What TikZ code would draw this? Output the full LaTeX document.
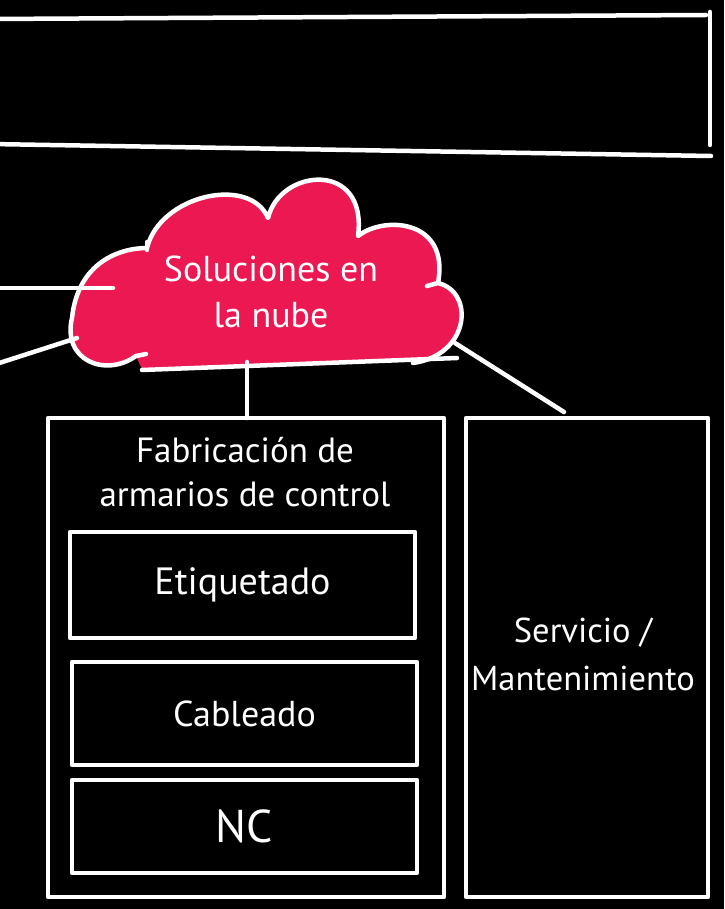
\documentclass[tikz,border=0pt]{standalone}
\usepackage{fontspec}
\setmainfont{PT Sans}
\definecolor{nube}{RGB}{236,24,82}
\tikzset{
    hand/.style={draw=white, line width=4.5pt, line cap=round, line join=round},
    caja/.style={hand, rectangle, inner sep=0pt, outer sep=0pt},
    rotulo/.style={text=white, align=center, font=\fontsize{36}{46}\selectfont},
}
\newcommand{\nubeborde}{(136,356) .. controls (105,378) and (62,360) .. (72,318)
    .. controls (78,262) and (120,248) .. (147,248)
    .. controls (160,195) and (250,175) .. (268,218)
    .. controls (280,168) and (368,160) .. (358,236)
    .. controls (385,215) and (450,220) .. (438,283)
    .. controls (475,292) and (470,355) .. (413,363)}

\begin{document}
\begin{tikzpicture}[x=1pt,y=-1pt]
    % Background
    \clip (0,0) rectangle (724,909);
    \fill[black] (0,0) rectangle (724,909);

    % Draw the top band
    \draw[hand] (-10,19) -- (706,15);
    \draw[hand] (710,12) -- (710,145);
    \draw[hand] (-10,144) -- (711,156);

    % Draw the cloud
    \fill[nube] \nubeborde -- (430,360) -- (142,369) -- cycle;
    \draw[hand] \nubeborde;
    \draw[hand] (147,242) -- (147,250);
    \draw[hand] (438,283) -- (427,286);
    \draw[hand] (136,356) -- (146,354);
    \node[rotulo] (nubetxt) at (271,292) {Soluciones en\\la nube};

    % Draw the boxes
    \node[caja, minimum width=396pt, minimum height=479pt] (fab) at (246,657.5) {};
    \node[rotulo, font=\fontsize{35}{44}\selectfont] (fabtxt) at (245,472) {Fabricación de\\armarios de control};
    \node[caja, rotulo, minimum width=345pt, minimum height=106pt, font=\fontsize{38}{46}\selectfont] (etiq) at (242.5,585) {Etiquetado};
    \node[caja, rotulo, minimum width=345pt, minimum height=103pt] (cab) at (244.5,713.5) {Cableado};
    \node[caja, rotulo, minimum width=345pt, minimum height=93pt, font=\fontsize{46}{46}\selectfont] (nc) at (244.5,826.5) {NC};
    \node[caja, minimum width=242pt, minimum height=479pt] (serv) at (587,657.5) {};
    \node[rotulo, font=\fontsize{34.5}{48}\selectfont] (servtxt) at (583,654) {Servicio /\\Mantenimiento};

    % Draw the connectors
    \coordinate (izq1) at (-10,288);
    \coordinate (nube1) at (113,288);
    \coordinate (izq2) at (-10,366);
    \coordinate (nube2) at (77,338);
    \coordinate (nubeab) at (247,362);
    \coordinate (nube3) at (455,343);
    \coordinate (der3) at (564,412);
    \coordinate (basei) at (142,370);
    \coordinate (based) at (457,358);
    \draw[hand] (izq1) -- (nube1);
    \draw[hand] (izq2) -- (nube2);
    \draw[hand] (basei) -- (based);
    \draw[hand] (nubeab) -- (nubeab |- fab.north);
    \draw[hand] (nube3) -- (der3);
\end{tikzpicture}
\end{document}
